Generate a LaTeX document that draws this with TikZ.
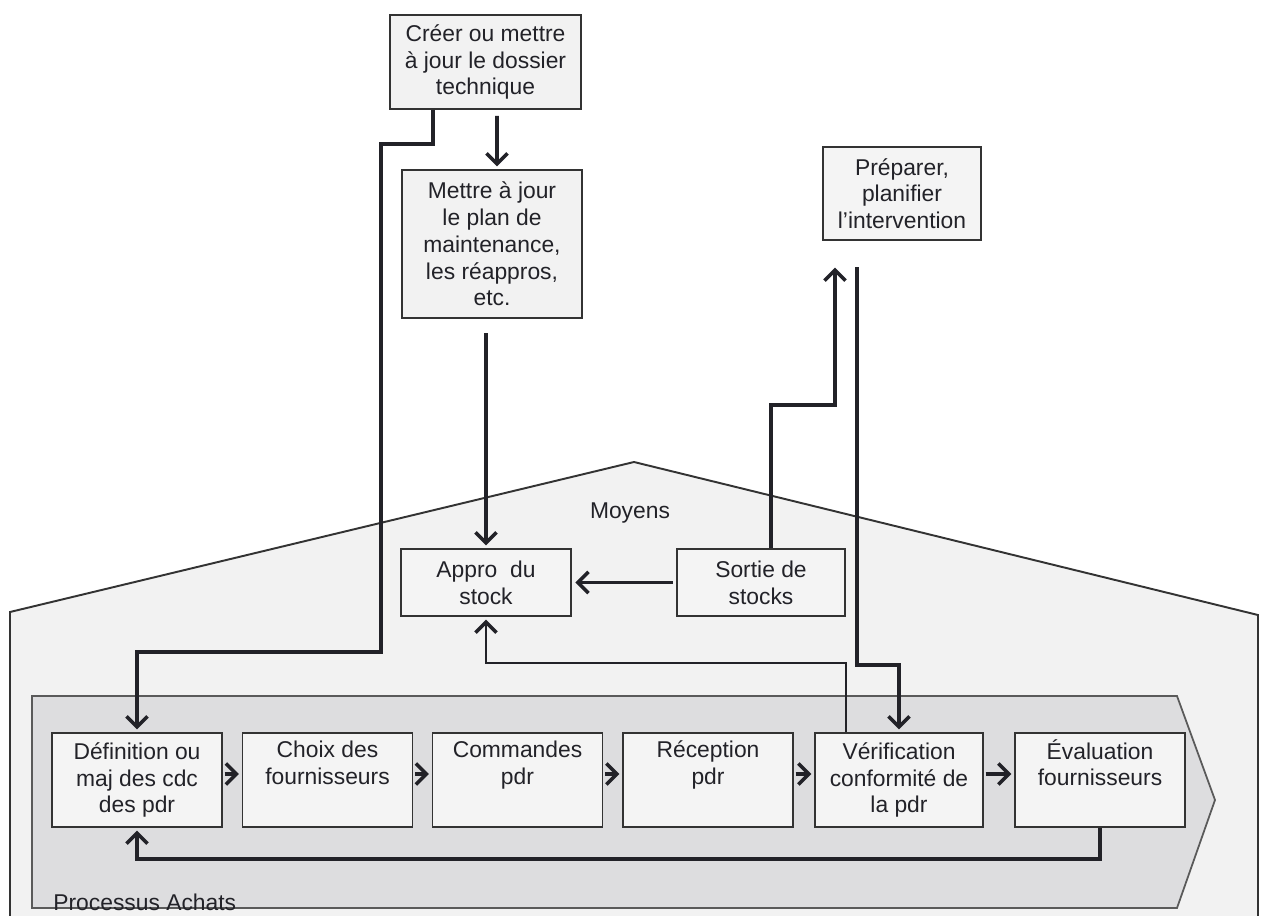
\documentclass[tikz,border=0pt]{standalone}
\usepackage{fontspec}
\setmainfont{Liberation Sans}
\usetikzlibrary{arrows.meta}
\definecolor{ink}{HTML}{222228}
\definecolor{housefill}{HTML}{F2F2F2}
\definecolor{procfill}{HTML}{DDDDDF}
\definecolor{boxfill}{HTML}{F4F4F4}
\definecolor{edge}{HTML}{333333}
\definecolor{procedge}{HTML}{5A5A5A}

\begin{document}
\begin{tikzpicture}[x=0.02cm, y=-0.02cm,
  every node/.style={font=\fontsize{13pt}{15.2pt}\selectfont, text=ink, inner sep=0pt},
  box/.style={draw=edge, line width=1.1pt, fill=boxfill, align=center, minimum height=1.88cm},
  rowbox/.style={box, minimum width=3.4cm},
  conn/.style={draw=ink, line width=2pt,
    -{Straight Barb[length=6pt,width=12pt,line width=2pt]}, shorten >=1.5pt},
]
% page and background
\fill[white] (0,0) rectangle (1261,916);
\useasboundingbox (0,0) rectangle (1261,916);

% "Moyens" house outline
\filldraw[fill=housefill, draw=edge, line width=1.1pt]
  (10,930) -- (10,612) -- (634,462) -- (1258,615) -- (1258,930);

% "Processus Achats" chevron band
\filldraw[fill=procfill, draw=procedge, line width=1pt]
  (32,696) -- (1177,696) -- (1215,800) -- (1177,908) -- (32,908) -- cycle;

% upper boxes
\node[box, minimum width=3.82cm, fill=housefill] (cre) at (485.5,62)
  {Créer ou mettre\\à jour le dossier\\technique};
\node[box, minimum width=3.6cm, minimum height=2.96cm, fill=housefill] (maj) at (492,244)
  {Mettre à jour\\le plan de\\maintenance,\\les réappros,\\etc.};
\node[box, minimum width=3.16cm, minimum height=1.86cm] (prep) at (902,193.5)
  {Préparer,\\planifier\\l’intervention};

% inside the house
\node (moy) at (630,513) {Moyens};
\node[box, minimum width=3.4cm, minimum height=1.34cm] (appro) at (486,582.5)
  {Appro~~du\\stock};
\node[box, minimum width=3.36cm, minimum height=1.34cm] (sortie) at (761,582.5)
  {Sortie de\\stocks};

% purchasing process steps
\node[rowbox] (def) at (137,780) {Définition ou\\maj des cdc\\des pdr};
\node[rowbox] (choix) at (327.5,780) {Choix des\\fournisseurs\\\strut};
\node[rowbox] (cmd) at (517.5,780) {Commandes\\pdr\\\strut};
\node[rowbox] (rec) at (708,780) {Réception\\pdr\\\strut};
\node[rowbox, minimum width=3.36cm] (ver) at (899,780) {Vérification\\conformité de\\la pdr};
\node[rowbox] (eval) at (1100,780) {Évaluation\\fournisseurs\\\strut};

\node[anchor=west] (pa) at (53,902) {Processus Achats};

% step-to-step arrows
\foreach \a/\b in {def/choix, choix/cmd, cmd/rec, rec/ver, ver/eval}
  \draw[conn, shorten <=1pt] ([yshift=0.12cm]\a.east) -- ([yshift=0.12cm]\b.west);

% connectors
\draw[conn] ([xshift=-1.05cm]cre.south) -- ++(0,34) -| (381,652) -| (def.north);
\draw[conn] ([xshift=0.23cm,yshift=-0.12cm]cre.south) -- ([xshift=0.1cm]maj.north);
\draw[conn] (appro.north |- 0,333) -- (appro.north);
\draw[conn, shorten <=2pt, shorten >=2pt] (sortie.west) -- (appro.east);

\coordinate (prepIn) at (835,265);
\coordinate (prepOut) at (857,267);
\draw[conn] ([xshift=0.2cm]sortie.north) |- (prepIn |- 0,405) -- (prepIn);
\draw[conn] (prepOut) |- (ver.north |- 0,665) -- (ver.north);
\draw[conn, line width=1.5pt] ([xshift=-1.06cm]ver.north) |- (appro.south |- 0,663) -- (appro.south);
\draw[conn] (eval.south) |- (def.south |- 0,859) -- (def.south);
\end{tikzpicture}
\end{document}
